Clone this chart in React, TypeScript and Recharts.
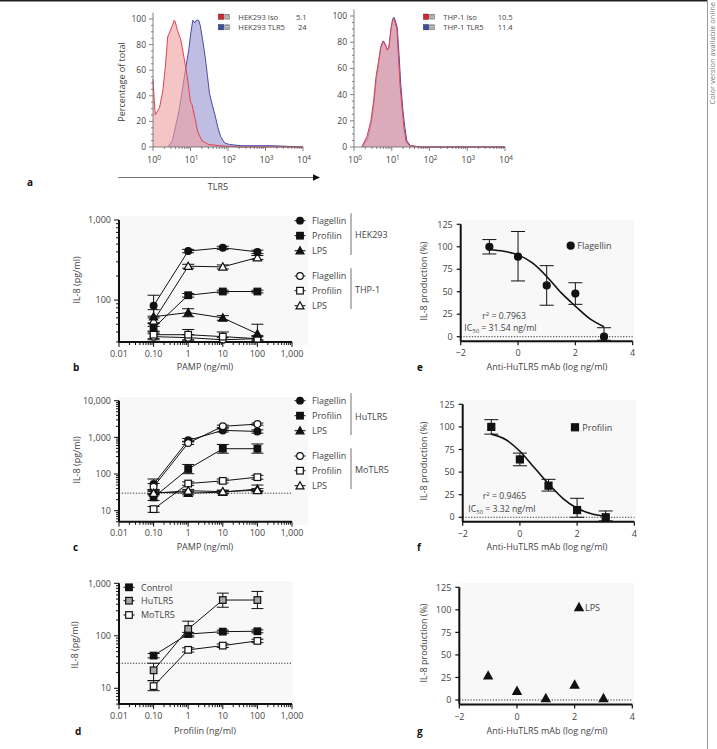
import React from "react";
import {
  AreaChart,
  Area,
  LineChart,
  Line,
  ComposedChart,
  XAxis,
  YAxis,
  ErrorBar,
  ReferenceLine,
} from "recharts";

const FONT = "'Open Sans', 'Noto Sans', sans-serif";
const INK = "#444";
const BLACK = "#111";
const GRAY_FILL = "#a8a8a8";

// ---- a: flow histograms, x = TLR5 intensity, y = % of total
const HEK_ISO_X = [1, 1.02, 1.15, 1.5, 1.83, 2.14, 2.46, 2.72, 3.3, 3.67, 3.9, 4.5, 5.5, 6.7, 8.2, 10, 11, 13.5, 15.5, 20, 30, 60, 200, 10000];
const HEK_ISO_Y = [53, 48, 25, 31, 44, 63, 86, 89, 95, 99, 98, 91, 84, 70, 55, 35, 33, 21, 12, 5, 2, 1, 0, 0];
const HEK_TLR5_X = [2.5, 3.3, 5, 7.4, 9, 10.2, 11.5, 13, 14.3, 16.5, 18.2, 21, 24.7, 28.2, 32, 38, 45, 55, 64, 82, 110, 220, 1600, 10000];
const HEK_TLR5_Y = [0, 5, 29, 61, 76, 89, 99, 97, 99, 99, 95, 84, 70, 56, 42, 33, 25, 14, 8, 3, 2, 1, 1, 0];
const THP_ISO_X = [1.6, 2.2, 2.8, 3.3, 3.8, 4.5, 5.1, 5.8, 6.2, 7, 7.6, 8.4, 9.5, 10.5, 11.2, 12.3, 13.7, 15, 16.7, 19, 21, 24, 30, 60, 10000];
const THP_ISO_Y = [0, 8, 20, 35, 53, 66, 76, 80, 80, 77, 74, 76, 90, 97, 98, 95, 90, 70, 46, 28, 15, 4, 1, 0, 0];
const THP_TLR5_X = [1.7, 2.3, 2.9, 3.4, 3.9, 4.6, 5.2, 5.9, 6.3, 7.1, 7.7, 8.5, 9.7, 10.7, 11.5, 12.6, 14, 15.5, 17.3, 19.6, 22, 25, 31, 60, 10000];
const THP_TLR5_Y = [0, 7, 19, 34, 52, 66, 77, 81, 80, 77, 74, 77, 91, 98, 99, 96, 91, 72, 48, 29, 16, 5, 1, 0, 0];

const HEK_LEGEND = ["HEK293 Iso", "HEK293 TLR5"];
const HEK_MFI = ["5.1", "24"];
const THP_LEGEND = ["THP-1 Iso", "THP-1 TLR5"];
const THP_MFI = ["10.5", "11.4"];

const HIST_X_MAJOR = [1, 10, 100, 1000, 10000];
const HIST_Y_MAJOR = [0, 20, 40, 60, 80, 100];

// ---- b-d: dose response, IL-8 (pg/ml)
const PAMP_DOSE = [0.1, 1, 10, 100];

const HEK_FLAGELLIN = [85, 410, 450, 400];
const HEK_FLAGELLIN_ERR = [[25, 30], [20, 20], [20, 20], [20, 20]];
const HEK_PROFILIN = [45, 115, 128, 128];
const HEK_PROFILIN_ERR = [[5, 6], [6, 6], [5, 5], [5, 5]];
const HEK_LPS = [62, 70, 60, 38];
const HEK_LPS_ERR = [[10, 14], [8, 8], [4, 4], [6, 12]];
const THP_FLAGELLIN = [35, 34, 32, 33];
const THP_FLAGELLIN_ERR = [[3, 3], [3, 3], [2, 2], [2, 2]];
const THP_PROFILIN = [37, 37, 35, 33];
const THP_PROFILIN_ERR = [[4, 4], [5, 6], [5, 5], [3, 3]];
const THP_LPS = [55, 265, 260, 340];
const THP_LPS_ERR = [[8, 8], [15, 15], [15, 15], [20, 20]];

const HU_FLAGELLIN = [53, 830, 1550, 1450];
const HU_FLAGELLIN_ERR = [[15, 20], [80, 100], [150, 150], [150, 150]];
const HU_PROFILIN = [23, 137, 490, 490];
const HU_PROFILIN_ERR = [[4, 5], [35, 45], [120, 150], [120, 170]];
const HU_LPS = [32, 30, 32, 39];
const HU_LPS_ERR = [[3, 3], [3, 4], [3, 4], [4, 11]];
const MO_FLAGELLIN = [45, 700, 2000, 2300];
const MO_FLAGELLIN_ERR = [[8, 10], [60, 80], [150, 150], [150, 150]];
const MO_PROFILIN = [11, 55, 65, 82];
const MO_PROFILIN_ERR = [[2, 2], [6, 6], [8, 8], [10, 10]];
const MO_LPS = [30, 35, 33, 36];
const MO_LPS_ERR = [[3, 3], [3, 3], [3, 3], [3, 4]];

const CONTROL = [42, 108, 120, 122];
const CONTROL_ERR = [[4, 4], [8, 8], [8, 8], [8, 8]];
const HU_TLR5 = [22, 135, 480, 480];
const HU_TLR5_ERR = [[8, 8], [40, 55], [130, 170], [150, 220]];
const MO_TLR5 = [11, 54, 65, 80];
const MO_TLR5_ERR = [[2, 3], [5, 5], [5, 5], [6, 6]];

const DETECTION_LIMIT = 30;

const PAMP_X_MAJOR = [0.01, 0.1, 1, 10, 100, 1000];
const PAMP_X_LABELS = ["0.01", "0.10", "1", "10", "100", "1,000"];
const IL8_B_MAJOR = [100, 1000];
const IL8_C_MAJOR = [10, 100, 1000, 10000];
const IL8_D_MAJOR = [10, 100, 1000];

// ---- e-g: inhibition by anti-HuTLR5 mAb
const MAB_DOSE = [-1, 0, 1, 2, 3];
const FLAGELLIN_PCT = [100, 89, 57, 48, 0];
const FLAGELLIN_PCT_ERR = [[8, 8], [27, 28], [22, 22], [12, 12], [4, 10]];
const PROFILIN_PCT = [100, 64, 35, 8, 0];
const PROFILIN_PCT_ERR = [[8, 8], [7, 7], [6, 7], [8, 13], [4, 7]];
const LPS_PCT = [27, 10, 2, 17, 2];

const FIT_DOSE = [-1, -0.5, 0, 0.5, 1, 1.5, 2, 2.5, 3];
const FLAGELLIN_FIT = [97, 95, 91, 82, 67, 49, 34, 20, 11];
const PROFILIN_FIT = [92, 86, 73, 55, 37, 21, 10, 4, 1];

const PCT_TICKS = [0, 25, 50, 75, 100, 125];
const MAB_TICKS = [-2, 0, 2, 4];

// ---------------------------------------------------------------------------

type Shape = "circle" | "square" | "triangle";

const pts = (xs: number[], ys: number[], err?: number[][]) =>
  xs.map((x, i) => ({ x, y: ys[i], err: err ? err[i] : [0, 0] }));

// log ticks: every k*10^d inside [lo, hi]
const logTicks = (lo: number, hi: number) => {
  const out: number[] = [];
  for (let d = Math.floor(Math.log10(lo)); d <= Math.ceil(Math.log10(hi)); d++) {
    for (let k = 1; k <= 9; k++) {
      const v = Number((k * Math.pow(10, d)).toPrecision(6));
      if (v >= lo - 1e-9 && v <= hi + 1e-9) out.push(v);
    }
  }
  return out;
};

const idxOf = (arr: number[], v: number) =>
  arr.findIndex((m) => Math.abs(m - v) <= Math.abs(m) * 1e-6 + 1e-9);

const fmtThousands = (v: number) => v.toLocaleString("en-US");

const Marker = ({ cx, cy, shape, fill, r = 3.4 }: any) => {
  if (cx == null || cy == null) return null;
  const sw = 1.2;
  if (shape === "circle") return <circle cx={cx} cy={cy} r={r} fill={fill} stroke={BLACK} strokeWidth={sw} />;
  if (shape === "square")
    return <rect x={cx - r} y={cy - r} width={2 * r} height={2 * r} fill={fill} stroke={BLACK} strokeWidth={sw} />;
  const h = r * 1.2;
  return (
    <polygon
      points={`${cx},${cy - h} ${cx - h},${cy + h * 0.8} ${cx + h},${cy + h * 0.8}`}
      fill={fill}
      stroke={BLACK}
      strokeWidth={sw}
    />
  );
};

const dotOf = (shape: Shape, fill: string, r = 3.4) => (p: any) =>
  <Marker key={`${shape}-${fill}-${p.index}`} cx={p.cx} cy={p.cy} shape={shape} fill={fill} r={r} />;

// ---- tick renderers
const makeLogXTick = (majors: number[], labels: string[]) => (p: any) => {
  const i = idxOf(majors, p.payload.value);
  return (
    <g>
      <line x1={p.x} x2={p.x} y1={p.y} y2={p.y + (i >= 0 ? 5 : 3)} stroke={BLACK} strokeWidth={1} />
      {i >= 0 && (
        <text x={p.x} y={p.y + 14.5} textAnchor="middle" fontSize={9} fill={INK} fontFamily={FONT}>
          {labels[i]}
        </text>
      )}
    </g>
  );
};

const makeLogYTick = (majors: number[]) => (p: any) => {
  const i = idxOf(majors, p.payload.value);
  return (
    <g>
      <line x1={p.x - (i >= 0 ? 5 : 3)} x2={p.x} y1={p.y} y2={p.y} stroke={BLACK} strokeWidth={1} />
      {i >= 0 && (
        <text x={p.x - 8} y={p.y + 3.2} textAnchor="end" fontSize={9} fill={INK} fontFamily={FONT}>
          {fmtThousands(majors[i])}
        </text>
      )}
    </g>
  );
};

const LinXTick = (p: any) => {
  const v = p.payload.value;
  return (
    <g>
      <line x1={p.x} x2={p.x} y1={p.y} y2={p.y + 4} stroke={BLACK} strokeWidth={1.2} />
      <text x={p.x} y={p.y + 15} textAnchor="middle" fontSize={9} fill={INK} fontFamily={FONT}>
        {v < 0 ? `\u2212${Math.abs(v)}` : v}
      </text>
    </g>
  );
};

const LinYTick = (p: any) => (
  <g>
    <line x1={p.x - 4} x2={p.x} y1={p.y} y2={p.y} stroke={BLACK} strokeWidth={1.2} />
    <text x={p.x - 8} y={p.y + 3.2} textAnchor="end" fontSize={9} fill={INK} fontFamily={FONT}>
      {p.payload.value}
    </text>
  </g>
);

const HistXTick = (p: any) => {
  const i = idxOf(HIST_X_MAJOR, p.payload.value);
  return (
    <g>
      <line x1={p.x} x2={p.x} y1={p.y} y2={p.y + (i >= 0 ? 4 : 2)} stroke="#666" strokeWidth={0.8} />
      {i >= 0 && (
        <text x={p.x + 1} y={p.y + 16} textAnchor="middle" fontSize={9} fill={INK} fontFamily={FONT}>
          10
          <tspan dy={-3.5} fontSize={6.5}>
            {i}
          </tspan>
        </text>
      )}
    </g>
  );
};

const HistYTick = (p: any) => {
  const i = idxOf(HIST_Y_MAJOR, p.payload.value);
  return (
    <g>
      <line x1={p.x - (i >= 0 ? 4 : 2)} x2={p.x} y1={p.y} y2={p.y} stroke="#666" strokeWidth={0.8} />
      {i >= 0 && (
        <text x={p.x - 7} y={p.y + 3} textAnchor="end" fontSize={8.5} fill={INK} fontFamily={FONT}>
          {HIST_Y_MAJOR[i]}
        </text>
      )}
    </g>
  );
};

const HIST_Y_TICKS = HIST_Y_MAJOR.flatMap((v, i) => (i < HIST_Y_MAJOR.length - 1 ? [v, v + 5, v + 10, v + 15] : [v]));

// ---- panel components
const Histogram = ({ iso, tlr5, top, yAxisWidth, right }: any) => (
  <AreaChart width={215} height={170} margin={{ top, right, bottom: 0, left: 0 }}>
    <XAxis
      type="number"
      dataKey="x"
      scale="log"
      domain={[1, 10000]}
      ticks={logTicks(1, 10000)}
      interval={0}
      height={23}
      tickSize={0}
      tickMargin={0}
      tickLine={false}
      tick={HistXTick}
      axisLine={{ stroke: "#666", strokeWidth: 0.8 }}
    />
    <YAxis
      type="number"
      domain={[0, 105]}
      ticks={HIST_Y_TICKS}
      interval={0}
      width={yAxisWidth}
      tickSize={0}
      tickMargin={0}
      tickLine={false}
      tick={HistYTick}
      axisLine={{ stroke: "#666", strokeWidth: 0.8 }}
    />
    <Area
      data={tlr5}
      dataKey="y"
      type="linear"
      stroke="#4b4aa6"
      strokeWidth={1}
      fill="#8c86cc"
      fillOpacity={0.55}
      isAnimationActive={false}
      dot={false}
      activeDot={false}
    />
    <Area
      data={iso}
      dataKey="y"
      type="linear"
      stroke="#e0424f"
      strokeWidth={1}
      fill="#ee9ea0"
      fillOpacity={0.6}
      isAnimationActive={false}
      dot={false}
      activeDot={false}
    />
  </AreaChart>
);

interface DoseSeries {
  name: string;
  values: number[];
  err: number[][];
  shape: Shape;
  fill: string;
}

const DoseChart = ({ series, yDomain, yMajors, top, bottom, dottedLine }: any) => (
  <LineChart width={262} height={170} margin={{ top, right: 30, bottom, left: 0 }}>
    <XAxis
      type="number"
      dataKey="x"
      scale="log"
      domain={[0.01, 1000]}
      ticks={logTicks(0.01, 1000)}
      interval={0}
      height={28}
      tickSize={0}
      tickMargin={0}
      tickLine={false}
      tick={makeLogXTick(PAMP_X_MAJOR, PAMP_X_LABELS)}
      axisLine={{ stroke: BLACK, strokeWidth: 2 }}
    />
    <YAxis
      type="number"
      dataKey="y"
      scale="log"
      domain={yDomain}
      ticks={logTicks(yDomain[0], yDomain[1])}
      interval={0}
      width={59}
      tickSize={0}
      tickMargin={0}
      tickLine={false}
      tick={makeLogYTick(yMajors)}
      axisLine={{ stroke: BLACK, strokeWidth: 2 }}
    />
    {dottedLine && <ReferenceLine y={DETECTION_LIMIT} stroke="#333" strokeWidth={1} strokeDasharray="1.2 1.6" />}
    {series.map((s: DoseSeries) => (
      <Line
        key={s.name}
        name={s.name}
        data={pts(PAMP_DOSE, s.values, s.err)}
        dataKey="y"
        type="linear"
        stroke={BLACK}
        strokeWidth={1}
        dot={dotOf(s.shape, s.fill, s.shape === "square" ? 3.3 : 3.4)}
        activeDot={false}
        isAnimationActive={false}
      >
        <ErrorBar dataKey="err" direction="y" width={6} stroke={BLACK} strokeWidth={1} />
      </Line>
    ))}
  </LineChart>
);

const InhibitionChart = ({ points, err, fit, shape, top, right, bottom, yAxisWidth }: any) => (
  <ComposedChart width={240} height={170} margin={{ top, right, bottom, left: 0 }}>
    <XAxis
      type="number"
      dataKey="x"
      domain={[-2, 4]}
      ticks={MAB_TICKS}
      interval={0}
      height={28}
      tickSize={0}
      tickMargin={0}
      tickLine={false}
      tick={LinXTick}
      axisLine={{ stroke: BLACK, strokeWidth: 2 }}
    />
    <YAxis
      type="number"
      dataKey="y"
      domain={[-5, 125]}
      ticks={PCT_TICKS}
      interval={0}
      width={yAxisWidth}
      tickSize={0}
      tickMargin={0}
      tickLine={false}
      tick={LinYTick}
      axisLine={{ stroke: BLACK, strokeWidth: 2 }}
    />
    <ReferenceLine y={0} stroke="#333" strokeWidth={1} strokeDasharray="1.2 1.6" />
    {fit && (
      <Line
        data={pts(FIT_DOSE, fit)}
        dataKey="y"
        type="monotone"
        stroke={BLACK}
        strokeWidth={1.6}
        dot={false}
        activeDot={false}
        isAnimationActive={false}
      />
    )}
    <Line
      data={pts(MAB_DOSE, points, err)}
      dataKey="y"
      stroke="none"
      dot={dotOf(shape, BLACK, 3.5)}
      activeDot={false}
      isAnimationActive={false}
    >
      {err && <ErrorBar dataKey="err" direction="y" width={7} stroke={BLACK} strokeWidth={1} />}
    </Line>
  </ComposedChart>
);

// ---- overlay helpers
const Txt = ({ x, y, children, anchor = "start", size = 9, weight = 400, fill = INK }: any) => (
  <text x={x} y={y} textAnchor={anchor} fontSize={size} fontWeight={weight} fill={fill} fontFamily={FONT}>
    {children}
  </text>
);

const VTxt = ({ x, y, children, size = 9, fill = INK }: any) => (
  <text
    transform={`translate(${x},${y}) rotate(-90)`}
    textAnchor="middle"
    fontSize={size}
    fill={fill}
    fontFamily={FONT}
  >
    {children}
  </text>
);

const LegendRow = ({ x, y, shape, fill, label }: any) => (
  <g>
    <line x1={x - 5.5} x2={x + 5.5} y1={y} y2={y} stroke={BLACK} strokeWidth={1} />
    <Marker cx={x} cy={y} shape={shape} fill={fill} r={3.3} />
    <Txt x={x + 12} y={y + 3.2}>
      {label}
    </Txt>
  </g>
);

// two-row legend of the flow histograms
const HIST_ROW = 10.4;
const HistLegend = ({ x, y, labels, values, valueX }: any) => {
  const colors = ["#d9252e", "#3d4ba3"];
  return (
    <g>
      {colors.map((c, i) => {
        const ry = y + i * HIST_ROW;
        return (
          <g key={c}>
            <rect x={x} y={ry} width={5.5} height={5.5} fill={c} stroke="#333" strokeWidth={0.4} />
            <rect x={x + 6} y={ry} width={5.5} height={5.5} fill="#8a8a8a" />
            <line x1={x + 6.8} x2={x + 10.7} y1={ry + 2} y2={ry + 2} stroke="#fff" strokeWidth={0.6} />
            <line x1={x + 6.8} x2={x + 10.7} y1={ry + 3.7} y2={ry + 3.7} stroke="#fff" strokeWidth={0.6} />
            <Txt x={x + 20} y={ry + 5.6} size={7.6}>
              {labels[i]}
            </Txt>
            <Txt x={valueX} y={ry + 5.6} size={7.6} anchor="end">
              {values[i]}
            </Txt>
          </g>
        );
      })}
    </g>
  );
};

const FitStats = ({ x1, y1, r2, x2, y2, ic50 }: any) => (
  <g>
    <Txt x={x1} y={y1} size={8.7}>
      r<tspan dy={-3} fontSize={6}>2</tspan>
      <tspan dy={3}> = {r2}</tspan>
    </Txt>
    <Txt x={x2} y={y2} size={8.7}>
      IC<tspan dy={2} fontSize={6}>50</tspan>
      <tspan dy={-2}> = {ic50}</tspan>
    </Txt>
  </g>
);

const Overlay = () => (
  <svg width={717} height={749} style={{ position: "absolute", left: 0, top: 0, pointerEvents: "none" }}>
    {/* frame */}
    <rect x={0} y={0} width={707} height={1.5} fill="#222" />
    <line x1={707.5} x2={707.5} y1={0} y2={749} stroke="#9a9a9a" strokeWidth={1} />
    <text transform="translate(714.5,2) rotate(-90)" textAnchor="end" fontSize={7.5} fill="#777" fontFamily={FONT}>
      Color version available online
    </text>

    {/* a */}
    <VTxt x={125} y={82}>Percentage of total</VTxt>
    <HistLegend x={218.3} y={14} labels={HEK_LEGEND} values={HEK_MFI} valueX={306.7} />
    <HistLegend x={423.3} y={14} labels={THP_LEGEND} values={THP_MFI} valueX={512.7} />
    <line x1={118} x2={314} y1={177.5} y2={177.5} stroke="#777" strokeWidth={1} />
    <polygon points="313,174.3 320,177.5 313,180.7" fill={BLACK} />
    <Txt x={218} y={190} anchor="middle">TLR5</Txt>
    <Txt x={27} y={186} size={10} weight={700} fill={BLACK}>a</Txt>

    {/* b */}
    <VTxt x={80} y={280}>IL-8 (pg/ml)</VTxt>
    <Txt x={205} y={369.5} anchor="middle">PAMP (ng/ml)</Txt>
    <Txt x={73} y={371} size={10} weight={700} fill={BLACK}>b</Txt>
    <LegendRow x={300} y={220.7} shape="circle" fill={BLACK} label="Flagellin" />
    <LegendRow x={300} y={235.7} shape="square" fill={BLACK} label="Profilin" />
    <LegendRow x={300} y={250.7} shape="triangle" fill={BLACK} label="LPS" />
    <LegendRow x={300} y={276} shape="circle" fill="#fff" label="Flagellin" />
    <LegendRow x={300} y={290.7} shape="square" fill="#fff" label="Profilin" />
    <LegendRow x={300} y={305.7} shape="triangle" fill="#fff" label="LPS" />
    <line x1={351} x2={351} y1={213.3} y2={255} stroke="#888" strokeWidth={1.2} />
    <line x1={351} x2={351} y1={268.3} y2={309} stroke="#888" strokeWidth={1.2} />
    <Txt x={355} y={238.2}>HEK293</Txt>
    <Txt x={355} y={293.2}>THP-1</Txt>

    {/* c */}
    <VTxt x={80} y={460}>IL-8 (pg/ml)</VTxt>
    <Txt x={205} y={549.5} anchor="middle">PAMP (ng/ml)</Txt>
    <Txt x={73} y={551} size={10} weight={700} fill={BLACK}>c</Txt>
    <LegendRow x={300} y={400.7} shape="circle" fill={BLACK} label="Flagellin" />
    <LegendRow x={300} y={415.7} shape="square" fill={BLACK} label="Profilin" />
    <LegendRow x={300} y={430.7} shape="triangle" fill={BLACK} label="LPS" />
    <LegendRow x={300} y={456} shape="circle" fill="#fff" label="Flagellin" />
    <LegendRow x={300} y={470.7} shape="square" fill="#fff" label="Profilin" />
    <LegendRow x={300} y={485.7} shape="triangle" fill="#fff" label="LPS" />
    <line x1={351} x2={351} y1={393.3} y2={435} stroke="#888" strokeWidth={1.2} />
    <line x1={351} x2={351} y1={448.3} y2={489} stroke="#888" strokeWidth={1.2} />
    <Txt x={355} y={420}>HuTLR5</Txt>
    <Txt x={355} y={472.5}>MoTLR5</Txt>

    {/* d */}
    <VTxt x={78} y={645}>IL-8 (pg/ml)</VTxt>
    <Txt x={205} y={734} anchor="middle">Profilin (ng/ml)</Txt>
    <Txt x={75} y={735} size={10} weight={700} fill={BLACK}>d</Txt>
    <LegendRow x={129} y={587.3} shape="square" fill={BLACK} label="Control" />
    <LegendRow x={129} y={600.7} shape="square" fill={GRAY_FILL} label="HuTLR5" />
    <LegendRow x={129} y={615} shape="square" fill="#fff" label="MoTLR5" />

    {/* e */}
    <VTxt x={427} y={281}>IL-8 production (%)</VTxt>
    <Txt x={547} y={369.5} anchor="middle">Anti-HuTLR5 mAb (log ng/ml)</Txt>
    <Txt x={417} y={371} size={10} weight={700} fill={BLACK}>e</Txt>
    <Marker cx={570.7} cy={245.7} shape="circle" fill={BLACK} r={3.5} />
    <Txt x={577.3} y={249}>Flagellin</Txt>
    <FitStats x1={482.3} y1={318.5} r2="0.7963" x2={464.3} y2={331} ic50="31.54 ng/ml" />

    {/* f */}
    <VTxt x={427} y={461}>IL-8 production (%)</VTxt>
    <Txt x={547} y={549.5} anchor="middle">Anti-HuTLR5 mAb (log ng/ml)</Txt>
    <Txt x={417} y={551} size={10} weight={700} fill={BLACK}>f</Txt>
    <Marker cx={575} cy={427.3} shape="square" fill={BLACK} r={3.5} />
    <Txt x={582.3} y={430.5}>Profilin</Txt>
    <FitStats x1={482.7} y1={499} r2="0.9465" x2={468.3} y2={511.5} ic50="3.32 ng/ml" />

    {/* g */}
    <VTxt x={427} y={643}>IL-8 production (%)</VTxt>
    <Txt x={547} y={734} anchor="middle">Anti-HuTLR5 mAb (log ng/ml)</Txt>
    <Txt x={417} y={735} size={10} weight={700} fill={BLACK}>g</Txt>
    <Marker cx={579} cy={607.3} shape="triangle" fill={BLACK} r={3.5} />
    <Txt x={585} y={610.5}>LPS</Txt>
  </svg>
);

const Panel = ({ left, top, children }: any) => (
  <div style={{ position: "absolute", left, top }}>{children}</div>
);

const PLOT_BG = [
  { left: 117, top: 216, width: 191, height: 129 },
  { left: 117, top: 397, width: 191, height: 128 },
  { left: 117, top: 581, width: 176, height: 127 },
  { left: 460, top: 220, width: 174, height: 124 },
  { left: 462, top: 400, width: 174, height: 124 },
  { left: 459, top: 583, width: 175, height: 124 },
];

const SERIES_B: DoseSeries[] = [
  { name: "THP-1 Flagellin", values: THP_FLAGELLIN, err: THP_FLAGELLIN_ERR, shape: "circle", fill: "#fff" },
  { name: "THP-1 Profilin", values: THP_PROFILIN, err: THP_PROFILIN_ERR, shape: "square", fill: "#fff" },
  { name: "THP-1 LPS", values: THP_LPS, err: THP_LPS_ERR, shape: "triangle", fill: "#fff" },
  { name: "HEK293 Flagellin", values: HEK_FLAGELLIN, err: HEK_FLAGELLIN_ERR, shape: "circle", fill: BLACK },
  { name: "HEK293 Profilin", values: HEK_PROFILIN, err: HEK_PROFILIN_ERR, shape: "square", fill: BLACK },
  { name: "HEK293 LPS", values: HEK_LPS, err: HEK_LPS_ERR, shape: "triangle", fill: BLACK },
];

const SERIES_C: DoseSeries[] = [
  { name: "HuTLR5 Flagellin", values: HU_FLAGELLIN, err: HU_FLAGELLIN_ERR, shape: "circle", fill: BLACK },
  { name: "HuTLR5 Profilin", values: HU_PROFILIN, err: HU_PROFILIN_ERR, shape: "square", fill: BLACK },
  { name: "HuTLR5 LPS", values: HU_LPS, err: HU_LPS_ERR, shape: "triangle", fill: BLACK },
  { name: "MoTLR5 Flagellin", values: MO_FLAGELLIN, err: MO_FLAGELLIN_ERR, shape: "circle", fill: "#fff" },
  { name: "MoTLR5 Profilin", values: MO_PROFILIN, err: MO_PROFILIN_ERR, shape: "square", fill: "#fff" },
  { name: "MoTLR5 LPS", values: MO_LPS, err: MO_LPS_ERR, shape: "triangle", fill: "#fff" },
];

const SERIES_D: DoseSeries[] = [
  { name: "Control", values: CONTROL, err: CONTROL_ERR, shape: "square", fill: BLACK },
  { name: "MoTLR5", values: MO_TLR5, err: MO_TLR5_ERR, shape: "square", fill: "#fff" },
  { name: "HuTLR5", values: HU_TLR5, err: HU_TLR5_ERR, shape: "square", fill: GRAY_FILL },
];

export default function App() {
  return (
    <div style={{ position: "relative", width: 717, height: 749, background: "#fff", fontFamily: FONT }}>
      <style>{"body{margin:0;background:#fff}"}</style>
      {PLOT_BG.map((r, i) => (
        <div key={i} style={{ position: "absolute", ...r, background: "#f8f8f8" }} />
      ))}

      <Panel left={100} top={0}>
        <Histogram
          iso={pts(HEK_ISO_X, HEK_ISO_Y)}
          tlr5={pts(HEK_TLR5_X, HEK_TLR5_Y)}
          top={12.6}
          right={12}
          yAxisWidth={53}
        />
      </Panel>
      <Panel left={300} top={0}>
        <Histogram
          iso={pts(THP_ISO_X, THP_ISO_Y)}
          tlr5={pts(THP_TLR5_X, THP_TLR5_Y)}
          top={9.45}
          right={10}
          yAxisWidth={54}
        />
      </Panel>

      <Panel left={60} top={200}>
        <DoseChart series={SERIES_B} yDomain={[30, 1000]} yMajors={IL8_B_MAJOR} top={20} bottom={0} />
      </Panel>
      <Panel left={60} top={380}>
        <DoseChart series={SERIES_C} yDomain={[5, 10000]} yMajors={IL8_C_MAJOR} top={20.7} bottom={0.3} dottedLine />
      </Panel>
      <Panel left={60} top={563}>
        <DoseChart series={SERIES_D} yDomain={[5, 1000]} yMajors={IL8_D_MAJOR} top={20.3} bottom={0.9} dottedLine />
      </Panel>

      <Panel left={400} top={200}>
        <InhibitionChart
          points={FLAGELLIN_PCT}
          err={FLAGELLIN_PCT_ERR}
          fit={FLAGELLIN_FIT}
          shape="circle"
          top={24.3}
          right={7.3}
          bottom={0.8}
          yAxisWidth={60.7}
        />
      </Panel>
      <Panel left={400} top={380}>
        <InhibitionChart
          points={PROFILIN_PCT}
          err={PROFILIN_PCT_ERR}
          fit={PROFILIN_FIT}
          shape="square"
          top={24.3}
          right={5.7}
          bottom={0.2}
          yAxisWidth={62.7}
        />
      </Panel>
      <Panel left={400} top={563}>
        <InhibitionChart points={LPS_PCT} shape="triangle" top={24.3} right={7.7} bottom={0.5} yAxisWidth={59.3} />
      </Panel>

      <Overlay />
    </div>
  );
}
